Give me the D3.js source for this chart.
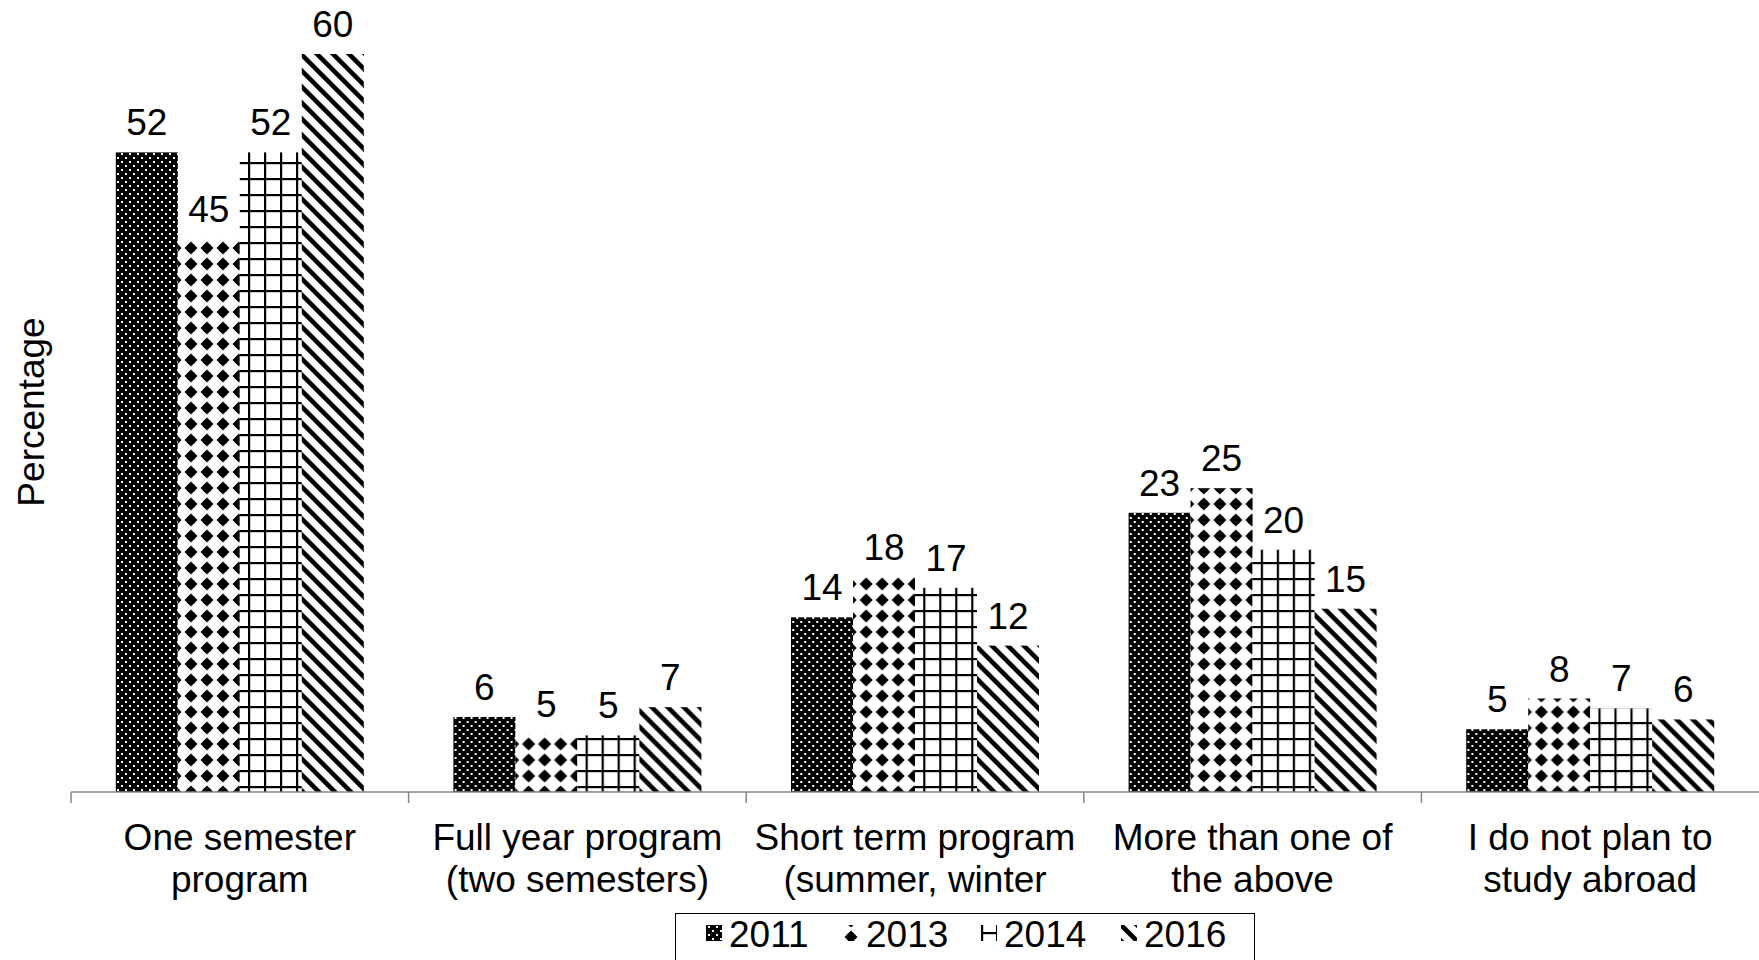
<!DOCTYPE html>
<html>
<head>
<meta charset="utf-8">
<script src="https://cdn.jsdelivr.net/npm/d3@7"></script>
<style>
  html, body { margin: 0; padding: 0; background: #fff; overflow: hidden; }
  svg { display: block; font-family: "Liberation Sans", Arial, sans-serif; }
</style>
</head>
<body>
<svg id="chart" width="1759" height="960"></svg>
<script>
// ---- data ----
const categories = ["One semester program", "Full year program (two semesters)", "Short term program (summer, winter", "More than one of the above", "I do not plan to study abroad"];
const categoryLines = [["One semester", "program"], ["Full year program", "(two semesters)"], ["Short term program", "(summer, winter"], ["More than one of", "the above"], ["I do not plan to", "study abroad"]];
const series = ["2011", "2013", "2014", "2016"];
const values2011 = [52, 6.1, 14.2, 22.7, 5.1];
const values2013 = [45, 4.7, 17.5, 24.7, 7.6];
const values2014 = [52, 4.6, 16.6, 19.7, 6.8];
const values2016 = [60, 6.9, 11.9, 14.9, 5.9];
const seriesValues = [values2011, values2013, values2014, values2016];
const yDomain = [0, 60];
const yTitle = "Percentage";

// ---- layout ----
const W = 1759, H = 960;
const axisY = 792, topY = 54;
const xLeft = 71, xRight = 1759;
const fontSize = 37;

const svg = d3.select("#chart");
const defs = svg.append("defs");

function make2011(id, ox, oy) {
  const p = defs.append("pattern").attr("id", id).attr("patternUnits", "userSpaceOnUse")
    .attr("x", ox).attr("y", oy).attr("width", 8).attr("height", 8);
  p.append("rect").attr("width", 8).attr("height", 8).attr("fill", "#000");
  p.append("rect").attr("x", 2).attr("y", 1).attr("width", 2).attr("height", 2).attr("fill", "#fff");
  p.append("rect").attr("x", 6).attr("y", 5).attr("width", 2).attr("height", 2).attr("fill", "#fff");
}
function make2013(id, ox, oy) {
  const p = defs.append("pattern").attr("id", id).attr("patternUnits", "userSpaceOnUse")
    .attr("x", ox).attr("y", oy).attr("width", 16).attr("height", 16);
  p.append("rect").attr("width", 16).attr("height", 16).attr("fill", "#fff");
  p.append("path").attr("d", "M8,1.5 L14.5,8 L8,14.5 L1.5,8 Z").attr("fill", "#000");
  p.append("circle").attr("cx", 8).attr("cy", 8).attr("r", 4.6).attr("fill", "#000");
}
function make2014(id, ox, oy, size) {
  const p = defs.append("pattern").attr("id", id).attr("patternUnits", "userSpaceOnUse")
    .attr("x", ox).attr("y", oy).attr("width", size).attr("height", size);
  p.append("rect").attr("width", size).attr("height", size).attr("fill", "#fff");
  p.append("rect").attr("x", 0).attr("y", 0).attr("width", 2.2).attr("height", size).attr("fill", "#000");
  p.append("rect").attr("x", 0).attr("y", 0).attr("width", size).attr("height", 2.2).attr("fill", "#000");
}
function make2016(id, ox, oy) {
  const p = defs.append("pattern").attr("id", id).attr("patternUnits", "userSpaceOnUse")
    .attr("x", ox).attr("y", oy).attr("width", 16).attr("height", 16);
  p.append("rect").attr("width", 16).attr("height", 16).attr("fill", "#fff");
  p.append("path").attr("d", "M-3,-3 L19,19 M13,-3 L19,3 M-3,13 L3,19")
    .attr("stroke", "#000").attr("stroke-width", 4.6).attr("fill", "none");
}
make2011("pat2011", 0, 0);
make2013("pat2013", 0, 0);
make2014("pat2014", 1, 2, 16);
make2016("pat2016", 0, 0);
make2011("leg2011", 0, 0);
make2013("leg2013", 0, 4);
make2014("leg2014", 0, 7, 15);
make2016("leg2016", 0, 0);

const patternFor = { "2011": "url(#pat2011)", "2013": "url(#pat2013)", "2014": "url(#pat2014)", "2016": "url(#pat2016)" };
const legendPatternFor = { "2011": "url(#leg2011)", "2013": "url(#leg2013)", "2014": "url(#leg2014)", "2016": "url(#leg2016)" };

// ---- scales ----
const x0 = d3.scaleBand().domain(categories).range([xLeft, xRight]).paddingInner(0).paddingOuter(0);
const x1 = d3.scaleBand().domain(series).range([0, x0.bandwidth()]).paddingInner(0).paddingOuter(0.7226);
const y = d3.scaleLinear().domain(yDomain).range([axisY, topY]);

// ---- bars ----
const groups = svg.append("g").selectAll("g.cat")
  .data(categories).join("g").attr("class", "cat")
  .attr("transform", d => `translate(${x0(d)},0)`);

groups.selectAll("rect.bar")
  .data((c, i) => series.map((s, si) => ({ s, v: seriesValues[si][i] })))
  .join("rect").attr("class", "bar")
  .attr("x", d => x1(d.s))
  .attr("y", d => y(d.v))
  .attr("width", x1.bandwidth())
  .attr("height", d => axisY - y(d.v))
  .attr("fill", d => patternFor[d.s]);

groups.selectAll("text.val")
  .data((c, i) => series.map((s, si) => ({ s, v: seriesValues[si][i] })))
  .join("text").attr("class", "val")
  .attr("x", d => x1(d.s) + x1.bandwidth() / 2)
  .attr("y", d => y(d.v) - 17)
  .attr("text-anchor", "middle")
  .attr("font-size", fontSize)
  .attr("fill", "#000")
  .text(d => Math.round(d.v));

// ---- x axis ----
const axisG = svg.append("g");
axisG.append("line")
  .attr("x1", xLeft).attr("x2", xRight)
  .attr("y1", axisY).attr("y2", axisY)
  .attr("stroke", "#868686").attr("stroke-width", 1.5);
axisG.selectAll("line.tick")
  .data(categories).join("line").attr("class", "tick")
  .attr("x1", d => x0(d)).attr("x2", d => x0(d))
  .attr("y1", axisY).attr("y2", axisY + 11)
  .attr("stroke", "#868686").attr("stroke-width", 1.5);

axisG.selectAll("text.cat")
  .data(categories).join("text").attr("class", "cat")
  .attr("text-anchor", "middle")
  .attr("font-size", fontSize)
  .attr("fill", "#000")
  .attr("transform", d => `translate(${x0(d) + x0.bandwidth() / 2},850)`)
  .each(function (d, i) {
    const t = d3.select(this);
    categoryLines[i].forEach((ln, li) => {
      t.append("tspan").attr("x", 0).attr("y", li * 42).text(ln);
    });
  });

// ---- y title ----
svg.append("text")
  .attr("transform", `translate(44,412) rotate(-90)`)
  .attr("text-anchor", "middle")
  .attr("font-size", fontSize)
  .attr("fill", "#000")
  .text(yTitle);

// ---- legend ----
const legend = svg.append("g");
legend.append("rect")
  .attr("x", 675.5).attr("y", 913.5).attr("width", 579).attr("height", 70)
  .attr("fill", "#fff").attr("stroke", "#000").attr("stroke-width", 1);
const legendX = [706, 843, 981, 1121];
const items = legend.selectAll("g.item").data(series).join("g").attr("class", "item")
  .attr("transform", (d, i) => `translate(${legendX[i]},925)`);
items.append("rect").attr("width", 16).attr("height", 16).attr("fill", d => legendPatternFor[d]);
items.append("text").attr("x", 23).attr("y", 22)
  .attr("font-size", 37).attr("fill", "#000").text(d => d);
</script>
</body>
</html>
